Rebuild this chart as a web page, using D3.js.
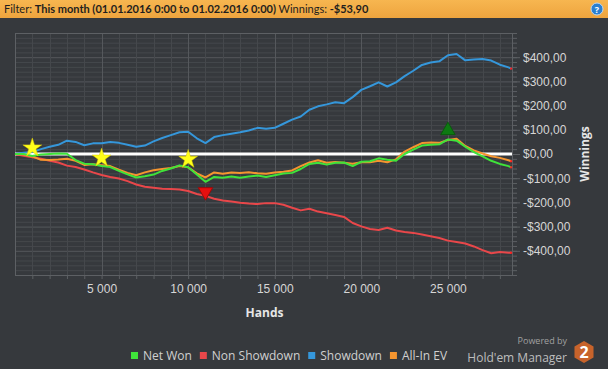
<!DOCTYPE html>
<html>
<head>
<meta charset="utf-8">
<script src="https://cdn.jsdelivr.net/npm/d3@7"></script>
<style>
  body { margin: 0; background: #36393d; }
  svg { display: block; font-family: "Open Sans", "Noto Sans", sans-serif; }
</style>
</head>
<body>
<div id="chart"></div>
<script>
// hands played (x) and cumulative winnings in $ for each series
const hands = [0, 500, 1000, 1500, 2000, 2500, 3000, 3500, 4000, 4500,
  5000, 5500, 6000, 6500, 7000, 7500, 8000, 8500, 9000, 9500,
  10000, 10500, 11000, 11500, 12000, 12500, 13000, 13500, 14000, 14500,
  15000, 15500, 16000, 16500, 17000, 17500, 18000, 18500, 19000, 19500,
  20000, 20500, 21000, 21500, 22000, 22500, 23000, 23500, 24000, 24500,
  25000, 25500, 26000, 26500, 27000, 27500, 28000, 28500, 28650];

const netWon = [0, 0, -8, -2, 0, 2, 1, -25, -40, -42,
  -50, -54, -70, -84, -97, -92, -85, -70, -60, -47,
  -55, -85, -115, -95, -98, -93, -98, -93, -89, -95,
  -88, -81, -78, -62, -41, -36, -44, -36, -35, -50,
  -32, -30, -18, -24, -28, 0, 18, 35, 38, 40,
  60, 55, 30, 8, -10, -28, -41, -50, -55];

const nonShowdown = [0, -7, -13, -20, -28, -35, -48, -54, -64, -76,
  -87, -95, -101, -112, -126, -135, -139, -144, -145, -147,
  -153, -165, -173, -185, -192, -196, -201, -205, -207, -203,
  -203, -210, -222, -233, -226, -238, -245, -252, -260, -285,
  -299, -310, -314, -305, -316, -322, -326, -333, -340, -347,
  -358, -364, -370, -382, -397, -410, -405, -408, -408];

const showdown = [0, 5, 8, 20, 30, 38, 55, 50, 36, 44,
  44, 50, 46, 38, 30, 35, 52, 66, 78, 90,
  92, 65, 45, 70, 78, 84, 90, 97, 108, 104,
  108, 125, 142, 155, 183, 197, 205, 214, 210, 235,
  265, 280, 296, 279, 296, 322, 344, 368, 378, 383,
  408, 413, 387, 390, 393, 386, 369, 358, 353];

const allInEV = [0, -2, -10, -24, -25, -23, -20, -28, -45, -42,
  -46, -50, -65, -78, -88, -76, -67, -62, -58, -50,
  -55, -80, -97, -76, -82, -76, -79, -75, -80, -82,
  -76, -73, -68, -50, -35, -26, -36, -33, -36, -40,
  -34, -34, -28, -34, -22, 10, 28, 45, 48, 46,
  58, 63, 33, 15, 2, -9, -16, -26, -30];

const seriesNames = ["Net Won", "Non Showdown", "Showdown", "All-In EV"];
const seriesColors = ["#3fe33a", "#e9474a", "#3597db", "#f5952f"];

// milestone stars and best / worst points on Net Won
const starHands = [1000, 5000, 10000];
const worstHand = 11000;
const bestHand = 25000;

const yTicks = [-400, -300, -200, -100, 0, 100, 200, 300, 400];

const width = 608;
const height = 369;
const margin = { top: 33, right: 96, bottom: 94, left: 15 };

const svg = d3.select("#chart")
    .append("svg")
    .attr("width", width)
    .attr("height", height);

svg.append("rect")
    .attr("width", width)
    .attr("height", height)
    .attr("fill", "#36393d");

// header bar
const grad = svg.append("defs").append("linearGradient")
    .attr("id", "hdr")
    .attr("x1", 0).attr("y1", 0).attr("x2", 0).attr("y2", 1);
grad.append("stop").attr("offset", "0%").attr("stop-color", "#f7b650");
grad.append("stop").attr("offset", "100%").attr("stop-color", "#eea43e");

svg.append("rect")
    .attr("width", width)
    .attr("height", 18)
    .attr("fill", "url(#hdr)");

const hdrText = svg.append("text")
    .attr("x", 4)
    .attr("y", 13)
    .attr("font-family", "Lato, sans-serif")
    .attr("font-size", 11)
    .attr("fill", "#1e1e1e");
hdrText.append("tspan").text("Filter: ");
hdrText.append("tspan").attr("font-weight", "bold").text("This month (01.01.2016 0:00 to 01.02.2016 0:00)");
hdrText.append("tspan").text(" Winnings: ");
hdrText.append("tspan").attr("font-weight", "bold").text("-$53,90");

svg.append("circle")
    .attr("cx", 597).attr("cy", 9).attr("r", 6)
    .attr("fill", "#2a7fd0")
    .attr("stroke", "#bcd8f2").attr("stroke-width", 1);
svg.append("text")
    .attr("x", 597).attr("y", 12.5)
    .attr("text-anchor", "middle")
    .attr("font-size", 9).attr("font-weight", "bold")
    .attr("fill", "#fff")
    .text("?");

const x = d3.scaleLinear()
    .domain([0, 28700])
    .range([margin.left, width - margin.right]);

const y = d3.scaleLinear()
    .domain([-500, 500])
    .range([height - margin.bottom, margin.top]);

const plotL = x.range()[0], plotR = x.range()[1];
const plotT = y.range()[1], plotB = y.range()[0];

// grid
const g = svg.append("g");
g.selectAll(".hgrid")
    .data(d3.range(-500, 501, 20))
    .enter().append("line")
    .attr("x1", plotL).attr("x2", plotR)
    .attr("y1", d => y(d) + 0.5).attr("y2", d => y(d) + 0.5)
    .attr("stroke", d => d % 100 === 0 ? "#55585c" : "#45484c")
    .attr("stroke-width", 1);

g.selectAll(".vgrid")
    .data(d3.range(0, 28700, 1000))
    .enter().append("line")
    .attr("y1", plotT).attr("y2", plotB)
    .attr("x1", d => Math.round(x(d)) + 0.5).attr("x2", d => Math.round(x(d)) + 0.5)
    .attr("stroke", d => d % 5000 === 0 ? "#55585c" : "#45484c")
    .attr("stroke-width", 1);

svg.append("rect")
    .attr("x", plotL + 0.5).attr("y", plotT + 0.5)
    .attr("width", plotR - plotL).attr("height", plotB - plotT)
    .attr("fill", "none")
    .attr("stroke", "#5d6064");

// axes
const xAxis = d3.axisBottom(x)
    .tickValues(d3.range(1000, 28700, 1000))
    .tickSize(4)
    .tickFormat(d => d % 5000 === 0 ? d3.format(",")(d).replace(",", " ") : "");

svg.append("g")
    .attr("transform", `translate(0,${plotB})`)
    .call(xAxis)
    .call(a => a.select(".domain").remove())
    .call(a => a.selectAll("line").attr("stroke", "#5d6064"))
    .call(a => a.selectAll("text")
        .attr("fill", "#d6d6d6")
        .attr("font-size", 12)
        .attr("dy", "0.75em")
        .attr("y", 9));

const money = d => (d < 0 ? "-$" : "$") + Math.abs(d).toFixed(2).replace(".", ",");

const yMinor = d3.axisRight(y)
    .tickValues(d3.range(-500, 501, 20))
    .tickSize(5)
    .tickFormat("");

svg.append("g")
    .attr("transform", `translate(${plotR},0)`)
    .call(yMinor)
    .call(a => a.select(".domain").remove())
    .call(a => a.selectAll("line").attr("stroke", "#5d6064"));

const yAxis = d3.axisRight(y)
    .tickValues(yTicks)
    .tickSize(8)
    .tickPadding(3)
    .tickFormat(money);

svg.append("g")
    .attr("transform", `translate(${plotR},0)`)
    .call(yAxis)
    .call(a => a.select(".domain").remove())
    .call(a => a.selectAll("line").attr("stroke", "#5d6064"))
    .call(a => a.selectAll("text")
        .attr("fill", "#d6d6d6")
        .attr("font-size", 12));

svg.append("text")
    .attr("x", (plotL + plotR) / 2 + 1)
    .attr("y", 317)
    .attr("text-anchor", "middle")
    .attr("font-size", 12).attr("font-weight", "bold")
    .attr("fill", "#e6e6e6")
    .text("Hands");

svg.append("text")
    .attr("transform", `translate(589,${y(0)}) rotate(-90)`)
    .attr("text-anchor", "middle")
    .attr("font-size", 12).attr("font-weight", "bold")
    .attr("fill", "#e6e6e6")
    .text("Winnings");

// zero line
svg.append("line")
    .attr("x1", plotL).attr("x2", plotR)
    .attr("y1", y(0)).attr("y2", y(0))
    .attr("stroke", "#ffffff")
    .attr("stroke-width", 3);

// series lines, drawn red, blue, orange, green
const allSeries = [netWon, nonShowdown, showdown, allInEV];
const drawOrder = [1, 2, 3, 0];

const line = d3.line()
    .x((d, i) => x(hands[i]))
    .y(d => y(d));

drawOrder.forEach(k => {
    const vals = allSeries[k];
    svg.append("path")
        .datum(vals)
        .attr("fill", "none")
        .attr("stroke", seriesColors[k])
        .attr("stroke-width", 2)
        .attr("stroke-linejoin", "round")
        .attr("d", line);
    svg.append("rect")
        .attr("x", x(hands[hands.length - 1]) - 1)
        .attr("y", y(vals[vals.length - 1]) - 1)
        .attr("width", 2).attr("height", 2)
        .attr("fill", "#ff2020");
});

// markers
const netAt = h => netWon[hands.indexOf(h)];
const star = d3.symbol().type(d3.symbolStar).size(110);

svg.selectAll(".star")
    .data(starHands)
    .enter().append("path")
    .attr("d", star)
    .attr("transform", d => `translate(${x(d)},${y(netAt(d)) - 8})`)
    .attr("fill", "#ffff1a")
    .attr("stroke", "#d8c800")
    .attr("stroke-width", 0.5);

const tri = d3.symbol().type(d3.symbolTriangle).size(90);

svg.append("path")
    .attr("d", tri)
    .attr("transform", `translate(${x(worstHand)},${y(netAt(worstHand)) + 10}) rotate(180)`)
    .attr("fill", "#e60f0f")
    .attr("stroke", "#9a0a0a");

svg.append("path")
    .attr("d", tri)
    .attr("transform", `translate(${x(bestHand)},${y(netAt(bestHand)) - 9})`)
    .attr("fill", "#0d7a12")
    .attr("stroke", "#0a5a0d");

// legend
const legend = svg.append("g").attr("font-size", 12);
let lx = 131;
seriesNames.forEach((name, k) => {
    legend.append("rect")
        .attr("x", lx).attr("y", 352)
        .attr("width", 7).attr("height", 7)
        .attr("fill", seriesColors[k]);
    const t = legend.append("text")
        .attr("x", lx + 12).attr("y", 360)
        .attr("fill", "#d0d0d0")
        .text(name);
    lx += 12 + t.node().getComputedTextLength() + 8;
});

// branding
svg.append("text")
    .attr("x", 567).attr("y", 344)
    .attr("text-anchor", "end")
    .attr("font-size", 9)
    .attr("fill", "#a0a0a0")
    .text("Powered by");
svg.append("text")
    .attr("x", 567).attr("y", 362)
    .attr("text-anchor", "end")
    .attr("font-size", 12)
    .attr("fill", "#bdbdbd")
    .text("Hold'em Manager");

const hex = d3.range(6).map(i => {
    const a = Math.PI / 3 * i + Math.PI / 6;
    return [584 + 11 * Math.cos(a), 352 + 11 * Math.sin(a)];
});
svg.append("polygon")
    .attr("points", hex.map(p => p.join(",")).join(" "))
    .attr("fill", "#c7632b");
svg.append("text")
    .attr("x", 584).attr("y", 358)
    .attr("text-anchor", "middle")
    .attr("font-size", 16).attr("font-weight", "bold")
    .attr("fill", "#ffffff")
    .text("2");
</script>
</body>
</html>
